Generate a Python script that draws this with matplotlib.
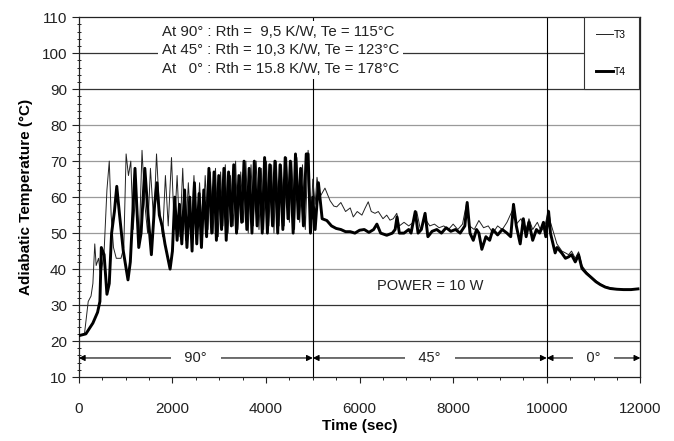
import matplotlib
matplotlib.use('Agg')
import matplotlib.pyplot as plt
from matplotlib.ticker import MultipleLocator

plt.rcParams['font.family'] = ['Liberation Sans', 'DejaVu Sans']

# T3 (thin line) readings, time in sec / temperature in deg C
t3_time = [0, 120, 200, 260, 300, 340, 370, 420, 470, 540, 600, 650, 690, 740, 800, 900,
           960, 1010, 1060, 1110, 1160, 1220, 1290, 1350, 1410, 1470, 1530, 1600, 1660,
           1720, 1790, 1850, 1910, 1980, 2040, 2100, 2160, 2220, 2280, 2340, 2400, 2460,
           2520, 2580, 2640, 2700, 2760, 2810, 2870, 2920, 2980, 3030, 3080, 3130, 3190,
           3240, 3300, 3350, 3400, 3460, 3520, 3570, 3620, 3680, 3730, 3790, 3850, 3900,
           3950, 4010, 4060, 4120, 4170, 4220, 4280, 4330, 4390, 4440, 4500, 4550, 4610,
           4660, 4720, 4780, 4840, 4900, 4960, 5000, 5050, 5090, 5150, 5260, 5370, 5450,
           5512, 5600, 5700, 5800, 5865, 5950, 6050, 6120, 6185, 6250, 6330, 6400, 6500,
           6580, 6650, 6720, 6795, 6850, 6950, 7050, 7150, 7222, 7300, 7400, 7500, 7600,
           7700, 7800, 7900, 8000, 8100, 8200, 8293, 8350, 8450, 8550, 8650, 8750, 8850,
           8950, 9050, 9150, 9290, 9350, 9450, 9550, 9620, 9700, 9800, 9880, 9960, 10039,
           10080, 10150, 10218, 10325, 10400, 10467, 10530, 10610, 10681, 10752, 10850,
           10930, 11050, 11144, 11250, 11358, 11500, 11643, 11800, 11950]
t3_temp = [21.5, 22, 31, 32.5, 36, 47, 41, 43, 38, 45, 62, 70, 55, 46, 43, 43,
           46, 72, 66, 70, 51, 62, 48, 73, 58, 50, 68, 53, 72,
           57, 49, 66, 52, 71, 51, 66, 49, 68, 48, 64, 50, 66,
           49, 64, 48, 66, 51, 67, 50, 68, 49, 67, 52, 69, 50,
           66, 52, 70, 51, 67, 53, 70, 50, 69, 52, 70, 51, 68,
           51, 70, 52, 69, 50, 70, 52, 69, 52, 71, 53, 70, 51,
           71, 53, 69, 51, 73, 52, 65, 58, 65.5, 60, 62.5, 59, 57.5,
           57.3, 58.5, 56, 57, 54.5, 56, 55, 57, 58.7, 56, 55.5, 56, 54,
           55, 53.6, 54, 55.5, 52, 53, 52, 53, 56, 51, 54, 52, 52.5,
           51.5, 52, 51, 52.5, 51, 52.5, 58.7, 52, 51, 53.5, 51.5, 52, 50,
           52, 51, 53, 57, 52.5, 54, 50.5, 54, 51, 53, 50.5, 52, 56.4,
           53, 50, 47, 45, 44.5, 44, 45, 43, 44.8, 41, 39.2,
           38.2, 36.8, 35.9, 35.2, 34.8, 34.5, 34.4, 34.4, 34.6]

# T4 (thick line) readings
t4_time = [0, 150, 300, 400, 450, 480, 540, 600, 650, 700, 760, 810, 870, 950, 1050,
           1100, 1200, 1280, 1330, 1410, 1480, 1550, 1620, 1670, 1720, 1780, 1840, 1950,
           2000, 2050, 2100, 2150, 2200, 2260, 2310, 2370, 2420, 2470, 2520, 2570, 2620,
           2670, 2730, 2780, 2840, 2890, 2940, 2990, 3050, 3100, 3150, 3200, 3260, 3310,
           3370, 3420, 3480, 3530, 3590, 3640, 3700, 3750, 3810, 3860, 3920, 3970, 4030,
           4080, 4140, 4190, 4250, 4300, 4360, 4410, 4470, 4520, 4580, 4630, 4690, 4740,
           4800, 4860, 4900, 4950, 5000, 5050, 5120, 5200, 5300, 5400, 5500, 5600, 5700,
           5800, 5900, 6000, 6100, 6200, 6300, 6370, 6450, 6580, 6700, 6760, 6800, 6850,
           6950, 7050, 7100, 7190, 7250, 7320, 7400, 7460, 7550, 7650, 7750, 7850, 7950,
           8050, 8150, 8250, 8300, 8360, 8430, 8500, 8550, 8613, 8700, 8780, 8850, 8950,
           9050, 9150, 9230, 9290, 9350, 9433, 9500, 9560, 9620, 9700, 9780, 9850, 9930,
           9980, 10040, 10080, 10180, 10220, 10325, 10400, 10467, 10530, 10610, 10681,
           10752, 10850, 10930, 11050, 11144, 11250, 11358, 11500, 11643, 11800, 11950]
t4_temp = [21.5, 22, 25, 28, 31, 46, 44, 33, 36, 50, 56, 63, 55, 45, 37,
           42, 68, 46, 50, 68, 55, 44, 58, 64, 55, 52, 47, 40,
           45, 60, 48, 58, 47, 62, 46, 60, 45, 64, 47, 61, 46,
           62, 49, 68, 50, 67, 48, 66, 51, 68, 48, 67, 52, 69,
           50, 66, 53, 70, 51, 68, 50, 70, 52, 68, 50, 71, 50,
           69, 52, 70, 50, 69, 51, 71, 54, 70, 50, 72, 54, 68,
           52, 72, 72, 50, 60, 51, 64, 54, 53.5, 52, 51.3, 51, 50.4,
           50.4, 50, 50.8, 51, 50.2, 51, 52.5, 50, 49.4, 50, 51, 54.5, 50,
           50, 51, 50, 56, 50, 51, 55.5, 49, 50.5, 51, 50, 51.5, 50.5,
           51, 50, 52, 58.5, 50, 48, 51, 50, 45.5, 49, 48, 51, 49.5,
           51, 50, 49, 58, 52, 47, 54, 49, 53, 48, 51, 50, 53,
           49, 56, 50, 44.5, 46, 44.4, 43, 43.4, 44, 42, 44,
           40.2, 38.8, 37.9, 36.5, 35.7, 35, 34.6, 34.4, 34.3, 34.3, 34.5]

grid_levels = [20, 30, 40, 50, 60, 70, 80, 90, 100]
grid_colors = ['#444444', '#333333', '#9a9a9a', '#9a9a9a', '#9a9a9a', '#9a9a9a',
               '#9a9a9a', '#333333', '#333333']

phase_bounds = [0, 5000, 10000, 12000]
phase_labels = ['90°', '45°', '0°']

info_text = ('At 90° : Rth =  9,5 K/W, Te = 115°C\n'
             'At 45° : Rth = 10,3 K/W, Te = 123°C\n'
             'At   0° : Rth = 15.8 K/W, Te = 178°C')


def make_chart():
    fig = plt.figure(figsize=(6.74, 4.41), dpi=100)
    ax = fig.add_axes([0.117, 0.145, 0.833, 0.816])

    for level, color in zip(grid_levels, grid_colors):
        ax.axhline(level, color=color, lw=0.9, zorder=1)
    for xb in phase_bounds[1:-1]:
        ax.axvline(xb, color='black', lw=0.8, zorder=1)

    ax.plot(t3_time, t3_temp, color='#222222', lw=0.7, label='T3', zorder=3)
    ax.plot(t4_time, t4_temp, color='black', lw=2.1, label='T4', zorder=4)

    # phase arrows
    for i, lab in enumerate(phase_labels):
        x0, x1 = phase_bounds[i], phase_bounds[i + 1]
        ax.annotate('', xy=(x0, 15.3), xytext=(x1, 15.3),
                    arrowprops=dict(arrowstyle='<|-|>', color='black', lw=0.8,
                                    shrinkA=0, shrinkB=0, mutation_scale=9),
                    zorder=5)
        ax.text((x0 + x1) / 2, 15.3, '   ' + lab + '   ', ha='center', va='center',
                fontsize=10.5, color='#222222', zorder=6,
                bbox=dict(boxstyle='square,pad=0.1', fc='white', ec='none'))

    ax.text(1780, 100.8, info_text, ha='left', va='center', fontsize=10.8,
            color='#222222', linespacing=1.4, zorder=6,
            bbox=dict(boxstyle='square,pad=0.25', fc='white', ec='none'))
    ax.text(7500, 35.3, 'POWER = 10 W', ha='center', va='center', fontsize=10.5,
            color='#222222', zorder=6)

    leg = ax.legend(loc='upper right', bbox_to_anchor=(0.997, 1.0), borderaxespad=0,
                    fontsize=7.5, handlelength=1.6, handletextpad=0.1,
                    labelspacing=2.6, borderpad=1.2, fancybox=False, framealpha=1)
    leg.get_frame().set_edgecolor('#333333')
    leg.get_frame().set_linewidth(0.8)
    leg.set_zorder(7)

    ax.set_xlim(0, 12000)
    ax.set_ylim(10, 110)
    ax.xaxis.set_major_locator(MultipleLocator(2000))
    ax.xaxis.set_minor_locator(MultipleLocator(500))
    ax.yaxis.set_major_locator(MultipleLocator(10))
    ax.yaxis.set_minor_locator(MultipleLocator(2))
    ax.tick_params(axis='x', which='major', direction='out', length=4, pad=14,
                   labelsize=11, colors='#222222')
    ax.tick_params(axis='x', which='minor', direction='out', length=2)
    ax.tick_params(axis='y', which='major', direction='out', length=5, labelsize=11,
                   colors='#222222')
    ax.tick_params(axis='y', which='minor', direction='inout', length=3)

    for s in ax.spines.values():
        s.set_linewidth(0.9)
        s.set_color('#222222')

    ax.set_xlabel('Time (sec)', fontsize=11, fontweight='bold', labelpad=2)
    ax.set_ylabel('Adiabatic Temperature (°C)', fontsize=11, fontweight='bold',
                  labelpad=6)

    fig.savefig('out.png', dpi=100)


make_chart()
